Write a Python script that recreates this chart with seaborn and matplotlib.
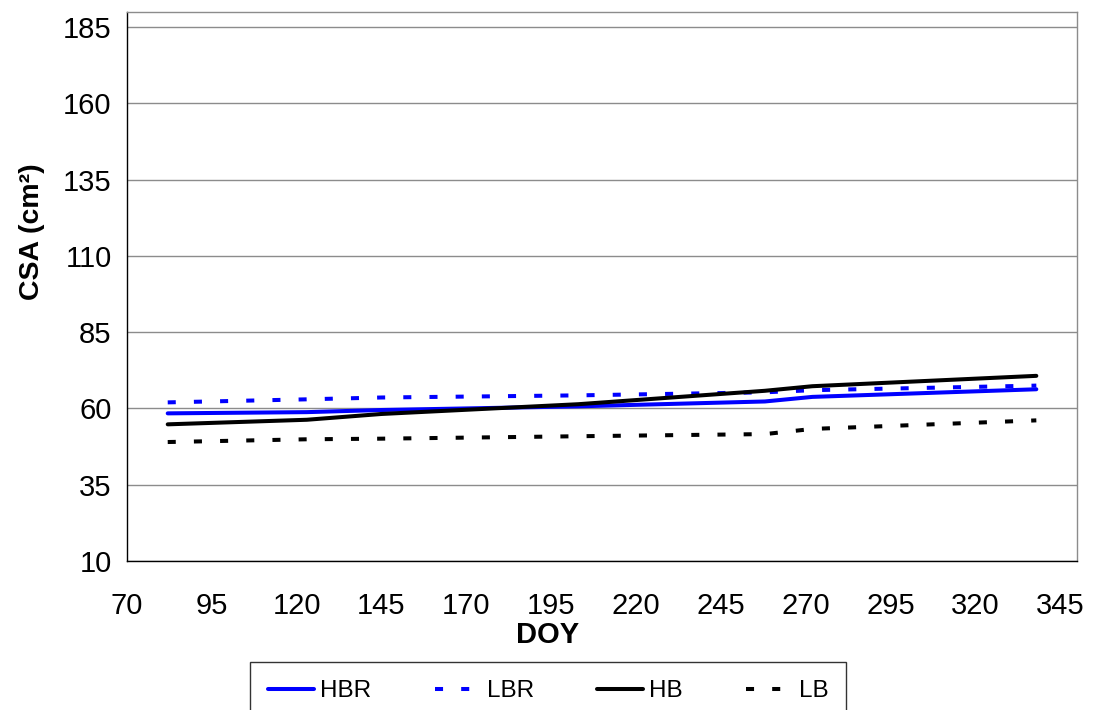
import matplotlib
matplotlib.use("Agg")
import matplotlib.pyplot as plt
import seaborn as sns
import pandas as pd

# Day of year of each measurement
doy = [82, 123, 145, 203, 258, 272, 338]

# Cross-sectional area (cm²) per treatment
hbr = [58.4, 58.8, 59.5, 60.7, 62.3, 63.8, 66.3]
lbr = [62.0, 63.0, 63.6, 64.3, 65.3, 66.0, 67.5]
hb = [54.8, 56.3, 58.2, 61.4, 65.8, 67.3, 70.7]
lb = [49.0, 49.9, 50.1, 50.9, 51.6, 53.3, 56.1]

series_names = ["HBR", "LBR", "HB", "LB"]
x_ticks = list(range(70, 346, 25))
y_ticks = list(range(10, 186, 25))

df = pd.concat(
    [pd.DataFrame({"DOY": doy, "CSA": vals, "series": name})
     for name, vals in zip(series_names, [hbr, lbr, hb, lb])],
    ignore_index=True,
)

sns.set_theme(style="white")
plt.rcParams["font.family"] = ["Liberation Sans", "DejaVu Sans"]
for key in ["text.color", "axes.labelcolor", "xtick.color", "ytick.color"]:
    plt.rcParams[key] = "black"

fig = plt.figure(figsize=(10.93, 7.10), dpi=100)
ax = fig.add_axes([0.1162, 0.2099, 0.8692, 0.7732])

palette = {"HBR": "#0000FF", "LBR": "#0000FF", "HB": "#000000", "LB": "#000000"}
dashes = {"HBR": "", "LBR": (2, 4.5), "HB": "", "LB": (2, 4.5)}

sns.lineplot(data=df, x="DOY", y="CSA", hue="series", style="series",
             hue_order=series_names, style_order=series_names,
             palette=palette, dashes=dashes, linewidth=2.9,
             sort=False, ax=ax, legend=True)

for line in ax.get_lines():
    line.set_solid_capstyle("round")
    line.set_dash_capstyle("butt")

ax.set_xlim(70, 350)
ax.set_ylim(10, 190)
ax.set_xticks(x_ticks)
ax.set_yticks(y_ticks)
ax.tick_params(axis="both", labelsize=21, colors="black", length=6,
               width=1, direction="out", pad=5)
ax.tick_params(axis="x", pad=16)

ax.yaxis.grid(True, color="#8c8c8c", linewidth=1)
ax.xaxis.grid(False)
ax.set_axisbelow(True)

for side in ["left", "bottom"]:
    ax.spines[side].set_color("black")
    ax.spines[side].set_linewidth(1)
for side in ["top", "right"]:
    ax.spines[side].set_color("#8c8c8c")
    ax.spines[side].set_linewidth(1)

ax.set_xlabel("DOY", fontsize=21, fontweight="bold", labelpad=0)
ax.set_ylabel("CSA (cm²)", fontsize=20.5, fontweight="bold")
ax.xaxis.set_label_coords(0.443, -0.109)
ax.yaxis.set_label_coords(-0.086, 0.6)

handles, labels = ax.get_legend_handles_labels()
ax.get_legend().remove()
leg = fig.legend(handles, labels, loc="upper center", ncol=4,
                 bbox_to_anchor=(0.5015, 0.0676), borderaxespad=0,
                 fontsize=17.5, frameon=True, fancybox=False,
                 edgecolor="black", handlelength=1.9, handletextpad=0.25,
                 columnspacing=2.6, borderpad=0.75)
leg.get_frame().set_linewidth(1)
for h in leg.get_lines():
    h.set_linewidth(2.9)

fig.savefig("out.png", dpi=100)
